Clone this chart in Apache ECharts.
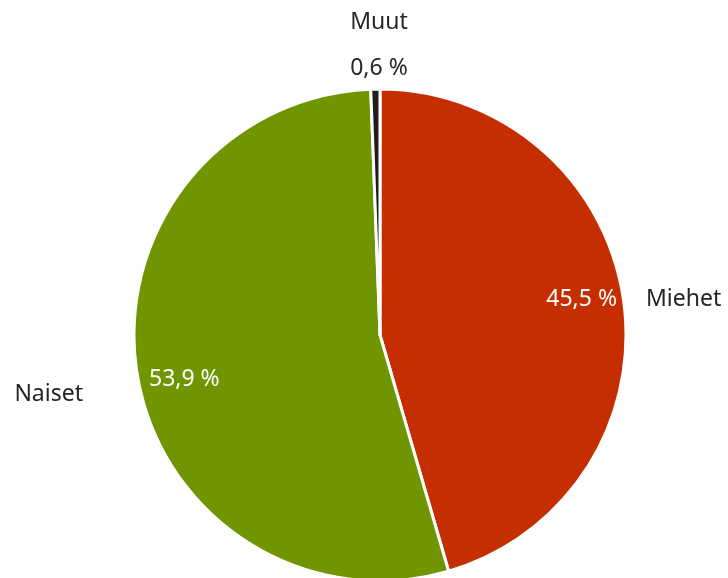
<!DOCTYPE html>
<html>
<head>
<meta charset="utf-8">
<script src="https://cdn.jsdelivr.net/npm/echarts@6/dist/echarts.min.js"></script>
<style>html,body{margin:0;padding:0;background:#fff}#c{width:728px;height:578px}</style>
</head>
<body>
<div id="c"></div>
<script>
const categories = ["Miehet", "Naiset", "Muut"];
const values = [45.5, 53.9, 0.6];
const colors = ["#c42e00", "#6f9600", "#1e1e1e"];

const fmt = v => v.toFixed(1).replace('.', ',') + ' %';
const FONT = '"Noto Sans", sans-serif';

const chart = echarts.init(document.getElementById('c'), null, {renderer: 'canvas'});
const data = categories.map((c, i) => ({name: c, value: values[i], itemStyle: {color: colors[i]}}));

const outerPos = [
  {x: 646, y: 299, align: 'left', verticalAlign: 'middle'},
  {x: 83, y: 394, align: 'right', verticalAlign: 'middle'},
  {x: 379, y: 45, align: 'center', verticalAlign: 'middle'}
];
const innerPos = [
  {x: 617, y: 299, align: 'right', verticalAlign: 'middle'},
  {x: 149, y: 379, align: 'left', verticalAlign: 'middle'},
  null
];

chart.setOption({
  animation: false,
  backgroundColor: '#fff',
  series: [
    {
      type: 'pie',
      center: [380, 335],
      radius: [0, 246],
      startAngle: 90,
      clockwise: true,
      silent: true,
      itemStyle: {borderColor: '#fff', borderWidth: 3},
      label: {
        show: true,
        position: 'outside',
        overflow: 'none',
        fontFamily: FONT,
        fontSize: 23,
        color: '#262626',
        formatter: p => p.dataIndex === 2 ? '{n|' + p.name + '}\n{p|' + fmt(p.value) + '}' : p.name,
        rich: {
          n: {fontFamily: FONT, fontSize: 23, color: '#262626', lineHeight: 46},
          p: {fontFamily: FONT, fontSize: 23, color: '#262626', lineHeight: 46}
        }
      },
      labelLine: {show: false},
      labelLayout: p => outerPos[p.dataIndex],
      data: data
    },
    {
      type: 'pie',
      center: [380, 335],
      radius: [154, 246],
      startAngle: 90,
      clockwise: true,
      silent: true,
      itemStyle: {color: 'rgba(0,0,0,0)', borderWidth: 0},
      label: {
        show: true,
        position: 'inside',
        overflow: 'none',
        fontFamily: FONT,
        fontSize: 23,
        color: '#fff',
        formatter: p => p.dataIndex === 2 ? '' : fmt(p.value)
      },
      labelLine: {show: false},
      labelLayout: p => innerPos[p.dataIndex] || {},
      data: categories.map((c, i) => ({name: c, value: values[i]}))
    }
  ]
});
</script>
</body>
</html>
